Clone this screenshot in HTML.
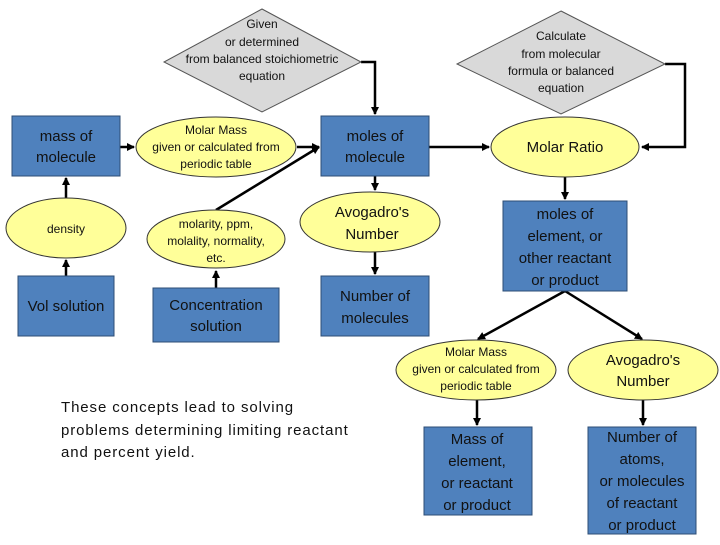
<!DOCTYPE html>
<html><head><meta charset="utf-8"><style>
body{margin:0;background:#fff}
svg text{font-family:"Liberation Sans",sans-serif;fill:#111;text-anchor:middle}
</style></head><body>
<svg width="720" height="540" viewBox="0 0 720 540" xmlns="http://www.w3.org/2000/svg">
<defs><marker id="a" markerWidth="8" markerHeight="8" refX="7" refY="4" orient="auto" markerUnits="userSpaceOnUse"><path d="M0,0L8,4L0,8z" fill="#000"/></marker></defs>
<g stroke="#000" stroke-width="2.5" fill="none">
<polyline points="361,62 375,62 375,114" marker-end="url(#a)"/>
<polyline points="665,64 685,64 685,147 642,147" marker-end="url(#a)"/>
<line x1="120" y1="147" x2="134" y2="147" marker-end="url(#a)"/>
<line x1="297" y1="147" x2="319" y2="147" marker-end="url(#a)"/>
<line x1="429" y1="147" x2="489" y2="147" marker-end="url(#a)"/>
<line x1="66" y1="198" x2="66" y2="178" marker-end="url(#a)"/>
<line x1="66" y1="276" x2="66" y2="260" marker-end="url(#a)"/>
<line x1="216" y1="288" x2="216" y2="271" marker-end="url(#a)"/>
<line x1="216" y1="210" x2="319" y2="147" marker-end="url(#a)"/>
<line x1="375" y1="176" x2="375" y2="190" marker-end="url(#a)"/>
<line x1="375" y1="252" x2="375" y2="274" marker-end="url(#a)"/>
<line x1="565" y1="177" x2="565" y2="199" marker-end="url(#a)"/>
<line x1="565" y1="291" x2="478" y2="339" marker-end="url(#a)"/>
<line x1="565" y1="291" x2="642" y2="339" marker-end="url(#a)"/>
<line x1="477" y1="400" x2="477" y2="425" marker-end="url(#a)"/>
<line x1="643" y1="400" x2="643" y2="425" marker-end="url(#a)"/>
</g>
<g fill="#d9d9d9" stroke="#555" stroke-width="1">
<polygon points="262,9 361,62 262,112 164,62"/>
<polygon points="561,11 665,64 561,114 457,64"/>
</g>
<g fill="#4f81bd" stroke="#2c4d75" stroke-width="1">
<rect x="12" y="116" width="108" height="60"/>
<rect x="321" y="116" width="108" height="60"/>
<rect x="18" y="276" width="96" height="60"/>
<rect x="153" y="288" width="126" height="54"/>
<rect x="321" y="276" width="108" height="60"/>
<rect x="503" y="201" width="124" height="90"/>
<rect x="424" y="427" width="108" height="88"/>
<rect x="588" y="427" width="108" height="107"/>
</g>
<g fill="#ffff99" stroke="#333" stroke-width="1">
<ellipse cx="216" cy="147" rx="80" ry="30"/>
<ellipse cx="565" cy="147" rx="74" ry="30"/>
<ellipse cx="66" cy="228" rx="60" ry="30"/>
<ellipse cx="216" cy="239" rx="69" ry="29"/>
<ellipse cx="370" cy="222" rx="70" ry="30"/>
<ellipse cx="476" cy="370" rx="80" ry="30"/>
<ellipse cx="643" cy="370" rx="75" ry="30"/>
</g>
<g font-size="12">
<text x="262" y="28">Given</text><text x="262" y="46">or determined</text><text x="262" y="63">from balanced stoichiometric</text><text x="262" y="80">equation</text>
<text x="561" y="40">Calculate</text><text x="561" y="58">from molecular</text><text x="561" y="75">formula or balanced</text><text x="561" y="92">equation</text>
<text x="216" y="134">Molar Mass</text><text x="216" y="151">given or calculated from</text><text x="216" y="168">periodic table</text>
<text x="66" y="233">density</text>
<text x="216" y="228">molarity, ppm,</text><text x="216" y="245">molality, normality,</text><text x="216" y="262">etc.</text>
<text x="476" y="356">Molar Mass</text><text x="476" y="373">given or calculated from</text><text x="476" y="390">periodic table</text>
</g>
<g font-size="15">
<text x="66" y="141">mass of</text><text x="66" y="162">molecule</text>
<text x="375" y="141">moles of</text><text x="375" y="162">molecule</text>
<text x="565" y="152">Molar Ratio</text>
<text x="66" y="311">Vol solution</text>
<text x="216" y="310">Concentration</text><text x="216" y="331">solution</text>
<text x="372" y="217">Avogadro's</text><text x="372" y="239">Number</text>
<text x="375" y="301">Number of</text><text x="375" y="323">molecules</text>
<text x="565" y="219">moles of</text><text x="565" y="241">element, or</text><text x="565" y="263">other reactant</text><text x="565" y="285">or product</text>
<text x="643" y="365">Avogadro's</text><text x="643" y="386">Number</text>
<text x="477" y="444">Mass of</text><text x="477" y="466">element,</text><text x="477" y="488">or reactant</text><text x="477" y="510">or product</text>
<text x="642" y="442">Number of</text><text x="642" y="464">atoms,</text><text x="642" y="486">or molecules</text><text x="642" y="508">of reactant</text><text x="642" y="530">or product</text>
</g>
<g font-size="15" letter-spacing="0.9">
<text x="61" y="412" style="text-anchor:start">These concepts lead to solving</text>
<text x="61" y="435" style="text-anchor:start">problems determining limiting reactant</text>
<text x="61" y="457" style="text-anchor:start">and percent yield.</text>
</g>
</svg>
</body></html>
